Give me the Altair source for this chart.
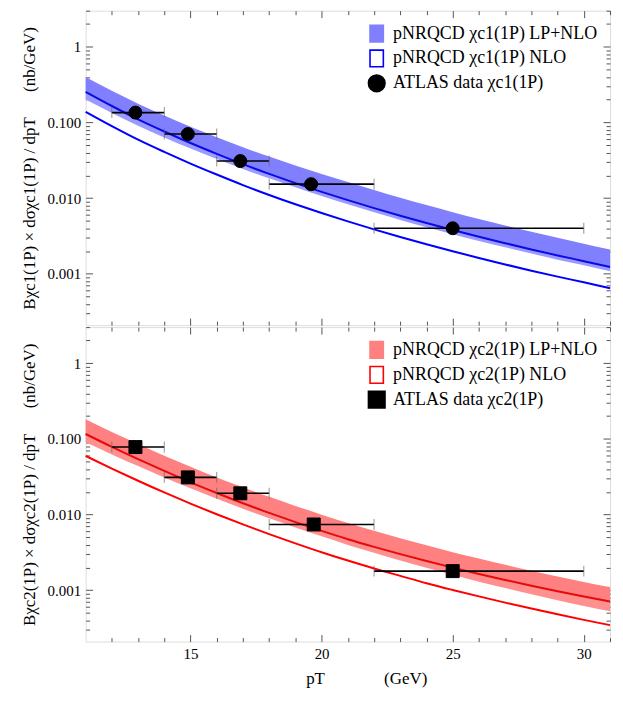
import altair as alt
import pandas as pd

FONT = "Liberation Serif"
NB = "\u00a0"

pT = list(range(11, 32))

# ---- chi_c1(1P) panel ----
c1_upper = [0.399, 0.262, 0.1769, 0.1236, 0.0879, 0.0639, 0.0471, 0.0354, 0.0270, 0.0209, 0.0163,
            0.0128, 0.01012, 0.00809, 0.00653, 0.00531, 0.00435, 0.00359, 0.00299, 0.00250, 0.00209]
c1_central = [0.254, 0.165, 0.110, 0.076, 0.0535, 0.0385, 0.0281, 0.0209, 0.0158, 0.0121, 0.0094,
              0.00738, 0.00585, 0.00469, 0.00379, 0.00309, 0.00254, 0.00210, 0.00175, 0.00147, 0.00123]
c1_lower = [0.2017, 0.1335, 0.0905, 0.0635, 0.0453, 0.0330, 0.0243, 0.01827, 0.01392, 0.01066, 0.00828,
            0.00650, 0.00515, 0.00413, 0.00334, 0.00272, 0.00224, 0.00185, 0.00154, 0.00130, 0.00108]
c1_nlo = [0.138, 0.0893, 0.0592, 0.0408, 0.0286, 0.0205, 0.01488, 0.01102, 0.0083, 0.00635, 0.00493,
          0.00387, 0.00307, 0.00246, 0.00199, 0.00162, 0.00133, 0.00110, 0.000919, 0.000772, 0.000646]
c1_x = [12.9, 14.9, 16.9, 19.6, 25.0]
c1_y = [0.135, 0.0703, 0.0309, 0.0153, 0.0040]

# ---- chi_c2(1P) panel ----
c2_upper = [0.182, 0.1236, 0.0855, 0.0600, 0.0429, 0.0310, 0.0229, 0.01714, 0.01303, 0.00998, 0.00774,
            0.00610, 0.00486, 0.00392, 0.00319, 0.00262, 0.00217, 0.00181, 0.00152, 0.00129, 0.00110]
c2_central = [0.1161, 0.0785, 0.0540, 0.0377, 0.0267, 0.0193, 0.0141, 0.01052, 0.00794, 0.00608, 0.00472,
              0.00374, 0.00300, 0.00243, 0.00199, 0.00164, 0.00137, 0.00115, 0.000973, 0.000828, 0.000710]
c2_lower = [0.0902, 0.0624, 0.0437, 0.0310, 0.0222, 0.01618, 0.01194, 0.00893, 0.00676, 0.00516, 0.00397,
            0.00312, 0.00247, 0.00198, 0.00160, 0.00130, 0.00107, 0.000887, 0.000740, 0.000621, 0.000526]
c2_nlo = [0.0596, 0.0406, 0.0280, 0.0196, 0.01396, 0.01009, 0.00741, 0.00552, 0.00417, 0.00318, 0.00247,
          0.00194, 0.00155, 0.00124, 0.00101, 0.000830, 0.000687, 0.000573, 0.000481, 0.000406, 0.000346]
c2_x = [12.9, 14.9, 16.9, 19.7, 25.0]
c2_y = [0.078, 0.031, 0.0191, 0.0074, 0.00179]

# horizontal bins of the data
bin_lo = [12, 14, 16, 18, 22]
bin_hi = [14, 16, 18, 22, 30]

x_major = [15, 20, 25, 30]
x_minor = [12, 13, 14, 16, 17, 18, 19, 21, 22, 23, 24, 26, 27, 28, 29, 31]
y_major = [0.001, 0.01, 0.1, 1]
y_minor = [0.0003, 0.0004, 0.0005, 0.0006, 0.0007, 0.0008, 0.0009,
           0.002, 0.003, 0.004, 0.005, 0.006, 0.007, 0.008, 0.009,
           0.02, 0.03, 0.04, 0.05, 0.06, 0.07, 0.08, 0.09,
           0.2, 0.3, 0.4, 0.5, 0.6, 0.7, 0.8, 0.9, 2, 3]

W, H = 527, 316
xs = alt.Scale(domain=[11, 31], nice=False, zero=False)
ys = alt.Scale(type="log", domain=[0.00021, 3.0], nice=False)

TICK = "#555555"

x_title = "pT" + NB * 14 + "(GeV)"


def axis(orient, values, major, labels=False, title=None, labelExpr=None, titleX=None):
    size = 7 if major else 4
    kw = dict(orient=orient, values=values, tickSize=size, offset=-size, domain=False, grid=False,
              labels=labels, tickColor=TICK, tickWidth=1, labelFont=FONT, labelFontSize=15,
              labelColor="black", labelPadding=5, minExtent=0)
    if labelExpr:
        kw["labelExpr"] = labelExpr
    if title is not None:
        kw.update(title=title, titleFont=FONT, titleFontSize=17, titleFontWeight="normal",
                  titleColor="black", titlePadding=9)
        if titleX is not None:
            kw["titleX"] = titleX
    else:
        kw["title"] = None
    return alt.Axis(**kw)


def panel(upper, central, lower, nlo, xs_pts, ys_pts, names, band_dark, band_light,
          line_col, nlo_col, data_shape, ytitle, show_x):
    curves = pd.DataFrame({"pT": pT, "upper": upper, "central": central, "lower": lower, "nlo": nlo})
    pts = pd.DataFrame({"x": xs_pts, "y": ys_pts, "lo": bin_lo, "hi": bin_hi, "series": names[2]})

    ylab = "datum.value >= 1 ? '1' : format(datum.value, '.3f')"
    light = alt.Chart(curves).mark_area(color=band_light, interpolate="monotone").encode(
        x=alt.X("pT:Q", scale=xs, axis=axis("bottom", x_major, True, labels=show_x,
                                            title=x_title if show_x else None, titleX=282)),
        y=alt.Y("lower:Q", scale=ys, axis=axis("left", y_major, True, labels=True,
                                                title=ytitle, labelExpr=ylab)),
        y2="central:Q",
    )
    dark = alt.Chart(curves).mark_area(color=band_dark, interpolate="monotone").encode(
        x=alt.X("pT:Q", scale=xs, axis=axis("bottom", x_minor, False)),
        y=alt.Y("central:Q", scale=ys, axis=axis("left", y_minor, False)),
        y2="upper:Q",
    )
    cline = alt.Chart(curves).mark_line(color=line_col, strokeWidth=2, interpolate="monotone").encode(
        x=alt.X("pT:Q", scale=xs, axis=axis("top", x_major, True)),
        y=alt.Y("central:Q", scale=ys, axis=axis("right", y_major, True)),
    )
    nline = alt.Chart(curves).mark_line(color=nlo_col, strokeWidth=2, interpolate="monotone").encode(
        x=alt.X("pT:Q", scale=xs, axis=axis("top", x_minor, False)),
        y=alt.Y("nlo:Q", scale=ys, axis=axis("right", y_minor, False)),
    )
    err = alt.Chart(pts).mark_rule(color="black", strokeWidth=1.6).encode(
        x=alt.X("lo:Q", scale=xs, axis=None), x2="hi:Q",
        y=alt.Y("y:Q", scale=ys, axis=None),
    )
    cap_lo = alt.Chart(pts).mark_tick(orient="vertical", color="#666666", size=11, thickness=1).encode(
        x=alt.X("lo:Q", scale=xs, axis=None), y=alt.Y("y:Q", scale=ys, axis=None))
    cap_hi = alt.Chart(pts).mark_tick(orient="vertical", color="#666666", size=11, thickness=1).encode(
        x=alt.X("hi:Q", scale=xs, axis=None), y=alt.Y("y:Q", scale=ys, axis=None))

    rect = "M-0.8,-1H0.8V1H-0.8Z"
    leg = alt.Legend(title=None, orient="top-right", offset=12, labelFont=FONT, labelFontSize=18,
                     labelColor="black", labelLimit=400, symbolSize=280, symbolStrokeWidth=1.6,
                     rowPadding=3, clipHeight=22, labelOffset=7, padding=0)
    point = alt.Chart(pts).mark_point(size=170, opacity=1, strokeWidth=1).encode(
        x=alt.X("x:Q", scale=xs, axis=None),
        y=alt.Y("y:Q", scale=ys, axis=None),
        shape=alt.Shape("series:N", scale=alt.Scale(domain=names, range=[rect, rect, data_shape]), legend=leg),
        fill=alt.Fill("series:N", scale=alt.Scale(domain=names, range=[band_dark, "white", "black"]), legend=leg),
        stroke=alt.Stroke("series:N", scale=alt.Scale(domain=names, range=[band_dark, nlo_col, "black"]), legend=leg),
    )
    return alt.layer(light, dark, cline, nline, err, cap_lo, cap_hi, point).resolve_axis(
        x="independent", y="independent").properties(width=W, height=H)


top = panel(c1_upper, c1_central, c1_lower, c1_nlo, c1_x, c1_y,
            ["pNRQCD χc1(1P) LP+NLO", "pNRQCD χc1(1P) NLO", "ATLAS data χc1(1P)"],
            "#8080ff", "#9b9bff", "#0a0ae6", "#0000ff", "circle",
            "Bχc1(1P) × dσχc1(1P) / dpT" + NB * 6 + "(nb/GeV)", False)
bottom = panel(c2_upper, c2_central, c2_lower, c2_nlo, c2_x, c2_y,
               ["pNRQCD χc2(1P) LP+NLO", "pNRQCD χc2(1P) NLO", "ATLAS data χc2(1P)"],
               "#ff8080", "#ff9090", "#e60a0a", "#ff0000", "square",
               "Bχc2(1P) × dσχc2(1P) / dpT" + NB * 6 + "(nb/GeV)", True)

chart = alt.vconcat(top, bottom, spacing=0).resolve_scale(
    x="independent", y="independent", shape="independent", fill="independent", stroke="independent"
).resolve_legend(shape="independent", fill="independent", stroke="independent").properties(
    padding={"left": 11, "top": 0, "right": 0, "bottom": 0}
).configure_view(stroke="#444444", strokeWidth=1).configure(font=FONT)

chart.save("out.html", embed_options={"renderer": "svg", "actions": False})
